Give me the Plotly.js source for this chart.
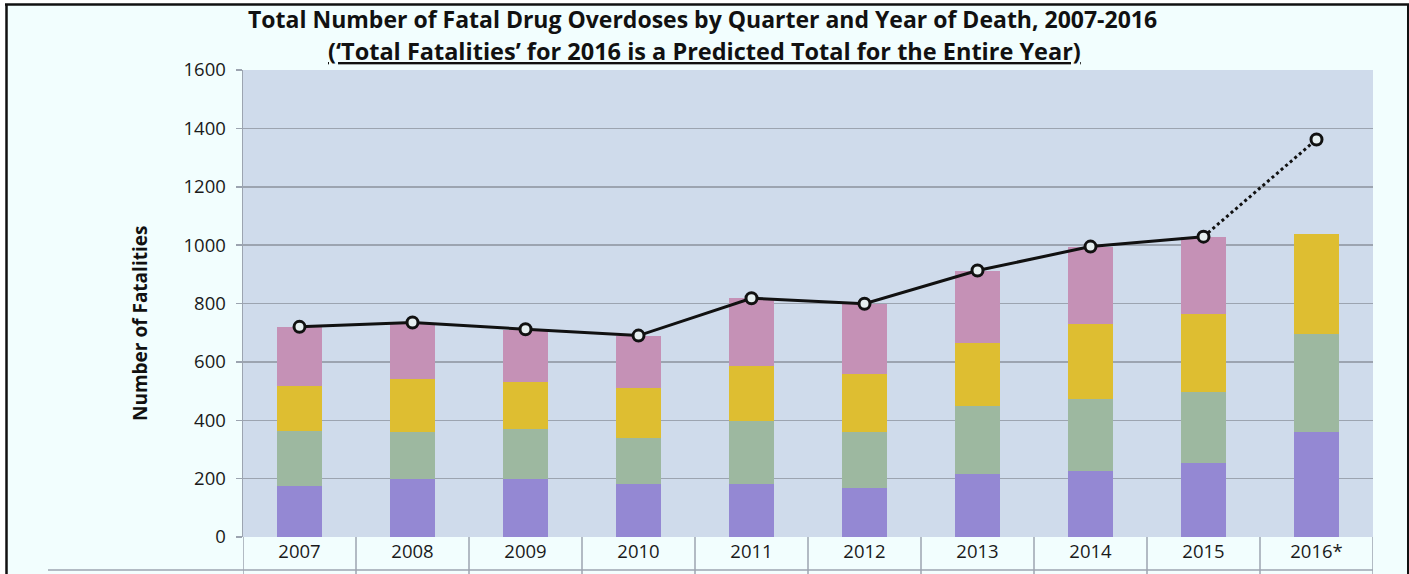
<!DOCTYPE html>
<html>
<head>
<meta charset="utf-8">
<script src="https://cdn.plot.ly/plotly-3.0.1.min.js"></script>
<style>html,body{margin:0;padding:0;background:#fff;}#chart{width:1409px;height:574px;}</style>
</head>
<body>
<div id="chart"></div>
<script>
const years = ["2007","2008","2009","2010","2011","2012","2013","2014","2015","2016*"];
const q1 = [175,198,199,182,180,169,216,227,252,361];
const q2 = [188,162,172,158,217,192,232,246,244,333];
const q3 = [153,180,159,171,190,199,217,258,269,343];
const q4 = [204,192,179,178,233,239,247,264,262,null];
const totals = [720,735,712,690,818,799,913,995,1029,1362];
const yTicks = [0,200,400,600,800,1000,1200,1400,1600];

const colors = ["#9488D3","#9DB8A0","#DEBE31","#C591B6"];
const quarters = [q1,q2,q3,q4];
const names = ["Q1","Q2","Q3","Q4"];

const L = 243, R = 1373, T = 70, B = 537, W = 1409, H = 574;
const px = v => (v - L) / (R - L);
const py = v => (B - v) / (B - T);

const traces = quarters.map((q, i) => ({
  type: "bar", x: years, y: q, name: names[i],
  marker: {color: colors[i]}, hoverinfo: "y"
}));
const nSolid = totals.length - 1;
traces.push({
  type: "scatter", mode: "lines", x: years.slice(nSolid - 1), y: totals.slice(nSolid - 1),
  line: {color: "#111", width: 3, dash: "dot"}, hoverinfo: "skip"
});
traces.push({
  type: "scatter", mode: "lines+markers", x: years.slice(0, nSolid), y: totals.slice(0, nSolid),
  line: {color: "#111", width: 3},
  marker: {symbol: "circle", size: 11, color: "#E6EFF0", line: {color: "#111", width: 3}}
});
traces.push({
  type: "scatter", mode: "markers", x: years.slice(nSolid), y: totals.slice(nSolid),
  marker: {symbol: "circle", size: 11, color: "#E6EFF0", line: {color: "#111", width: 3}}
});

const grey = "#9CA4B0";
const shapes = [];
for (let i = 0; i <= years.length; i++) {
  shapes.push({type: "line", xref: "x", yref: "paper", x0: i - 0.5, x1: i - 0.5,
    y0: 0, y1: py(H + 2), line: {color: grey, width: 1.5}});
}
shapes.push({type: "line", xref: "paper", yref: "paper", x0: px(48), x1: 1, y0: py(570), y1: py(570),
  line: {color: grey, width: 1.5}});
shapes.push({type: "rect", xref: "paper", yref: "paper", x0: px(0), x1: px(W), y0: py(0), y1: py(3.5),
  fillcolor: "#ffffff", line: {width: 0}, layer: "above"});
shapes.push({type: "rect", xref: "paper", yref: "paper", x0: px(0), x1: px(5.5), y0: py(0), y1: py(H),
  fillcolor: "#ffffff", line: {width: 0}, layer: "above"});
shapes.push({type: "line", xref: "paper", yref: "paper", x0: px(5), x1: px(1409), y0: py(4.5), y1: py(4.5),
  line: {color: "#111", width: 2.5}, layer: "above"});
shapes.push({type: "line", xref: "paper", yref: "paper", x0: px(6.5), x1: px(6.5), y0: py(4), y1: py(H),
  line: {color: "#111", width: 2.5}, layer: "above"});
shapes.push({type: "line", xref: "paper", yref: "paper", x0: px(1408), x1: px(1408), y0: py(4), y1: py(H),
  line: {color: "#111", width: 2}, layer: "above"});

const font = "'Open Sans', 'DejaVu Sans', sans-serif";
const layout = {
  width: W, height: H,
  margin: {l: L, r: W - R, t: T, b: H - B, pad: 0},
  paper_bgcolor: "#F2FEFE",
  plot_bgcolor: "#CFDBEB",
  barmode: "stack",
  bargap: 0.6,
  showlegend: false,
  font: {family: font, color: "#1a1a1a", size: 18.5},
  xaxis: {
    type: "category", range: [-0.5, years.length - 0.5], autorange: false,
    showgrid: false, ticks: "", showline: false, zeroline: false,
    tickfont: {size: 18.5, color: "#1a1a1a"}, ticklabelstandoff: 1, fixedrange: true
  },
  yaxis: {
    range: [0, 1600], autorange: false, tickvals: yTicks, ticktext: yTicks.map(String),
    showgrid: true, gridcolor: grey, gridwidth: 1.5,
    ticks: "outside", ticklen: 6, tickcolor: grey, tickwidth: 1.5,
    showline: true, linecolor: grey, linewidth: 1.5, zeroline: false,
    tickfont: {size: 18.5, color: "#1a1a1a"}, ticklabelstandoff: 6, fixedrange: true
  },
  shapes: shapes,
  annotations: [
    {xref: "paper", yref: "paper", x: px(702), y: py(19), xanchor: "center", yanchor: "middle",
     text: "<b>Total Number of Fatal Drug Overdoses by Quarter and Year of Death, 2007-2016</b>",
     showarrow: false, borderpad: 0, font: {size: 23, color: "#111", family: font}},
    {xref: "paper", yref: "paper", x: px(704), y: py(51), xanchor: "center", yanchor: "middle",
     text: "<b><u>(‘Total Fatalities’ for 2016 is a Predicted Total for the Entire Year)</u></b>",
     showarrow: false, borderpad: 0, font: {size: 23.5, color: "#111", family: font}},
    {xref: "paper", yref: "paper", x: px(140), y: py(324), xanchor: "center", yanchor: "middle",
     text: "<b>Number of Fatalities</b>", textangle: -90,
     showarrow: false, font: {size: 19, color: "#111", family: font}}
  ]
};
Plotly.newPlot("chart", traces, layout, {displayModeBar: false, staticPlot: true});
</script>
</body>
</html>
